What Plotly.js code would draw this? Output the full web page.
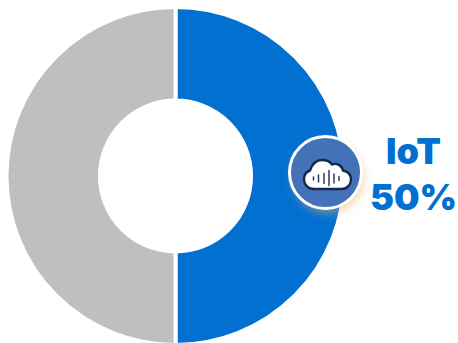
<!DOCTYPE html>
<html>
<head>
<meta charset="utf-8">
<script src="https://cdn.plot.ly/plotly-3.0.1.min.js"></script>
<style>html,body{margin:0;padding:0;background:#fff;overflow:hidden;height:343px}</style>
</head>
<body>
<div id="chart" style="width:458px;height:347px"></div>
<script>
// Share of connected devices
const categories = ['IoT', 'Other'];
const shares = [50, 50];
const sliceColors = ['#0270D1', '#BFBFBF'];
const calloutLines = ['IoT', '50%'];

const W = 458, H = 347;

// Round badge with a cloud and sound-wave bars, soft warm shadow underneath
const badge = `<svg xmlns="http://www.w3.org/2000/svg" width="110" height="110" viewBox="0 0 110 110">
<defs><filter id="s" x="-30%" y="-30%" width="160%" height="160%"><feGaussianBlur stdDeviation="4"/></filter></defs>
<circle cx="57" cy="60" r="36" fill="#E8B070" opacity="0.5" filter="url(#s)"/>
<circle cx="54.500" cy="55" r="36" fill="#4472B8" stroke="#fff" stroke-width="3"/>
<path d="M43 71.500 C37 71.500 33 67 33 62 C33 57 36 54 39 53 C41 47 45 42.500 51 42.500 C56 42.500 59 44 61 47 C66 45 71 48 72 53 C77 54 80 57 80 62 C80 67 76 71.500 71 71.500 Z" fill="#fff" stroke="#14284B" stroke-width="2.400" stroke-linejoin="round"/>
<g stroke="#14284B" stroke-width="1.500" stroke-linecap="round" opacity="0.9">
<path d="M42.500 59.500V62.500M47.500 57.500V64.500M53 56V66M58 53V68M63 56.500V65.500M68 59V63"/>
</g></svg>`;

const trace = {
  type: 'pie',
  labels: categories,
  values: shares,
  hole: 0.447,
  sort: false,
  direction: 'clockwise',
  rotation: 0,
  textinfo: 'none',
  hoverinfo: 'label+percent',
  marker: { colors: sliceColors, line: { color: '#fff', width: 4 } },
  domain: { x: [6.5 / W, 344.5 / W], y: [2 / H, 340 / H] }
};

const calloutFont = { family: 'Inter, sans-serif', size: 36, color: '#0270D1', weight: 900 };

const layout = {
  width: W,
  height: H,
  margin: { l: 0, r: 0, t: 0, b: 0 },
  paper_bgcolor: '#fff',
  showlegend: false,
  images: [{
    source: 'data:image/svg+xml;utf8,' + encodeURIComponent(badge),
    xref: 'paper', yref: 'paper',
    x: 326 / W, y: 1 - 172.500 / H,
    sizex: 110 / W, sizey: 110 / H,
    xanchor: 'center', yanchor: 'middle',
    layer: 'above'
  }],
  annotations: calloutLines.map((line, i) => ({
    text: line,
    xref: 'paper', yref: 'paper',
    x: 413 / W, y: 1 - (151 + i * 46) / H,
    xanchor: 'center', yanchor: 'middle',
    showarrow: false,
    font: calloutFont
  }))
};

Plotly.newPlot('chart', [trace], layout, { displayModeBar: false, staticPlot: true });
</script>
</body>
</html>
